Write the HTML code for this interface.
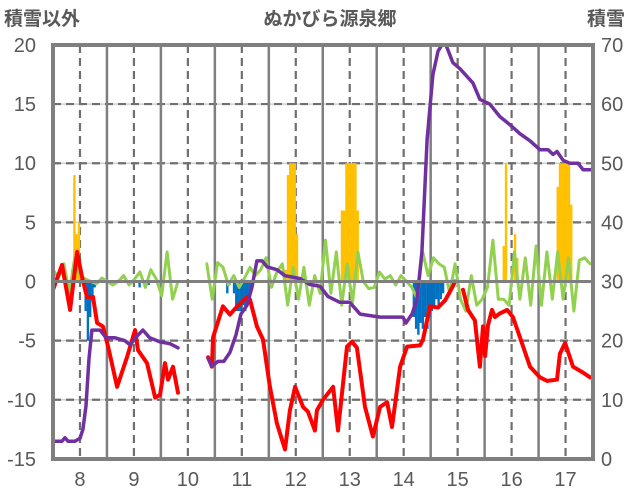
<!DOCTYPE html>
<html><head><meta charset="utf-8">
<style>
body{margin:0;background:#fff;}
svg{display:block;font-family:"Liberation Sans","Noto Sans CJK JP",sans-serif;}
</style></head>
<body>
<svg id="chart" width="636" height="501" viewBox="0 0 636 501">
<text x="4" y="25" font-size="19" font-weight="bold" fill="#595959">積雪以外</text>
<text x="330" y="25" font-size="19" font-weight="bold" fill="#595959" text-anchor="middle">ぬかびら源泉郷</text>
<text x="587" y="25" font-size="19" font-weight="bold" fill="#595959">積雪</text>
<g id="grid"></g>
<g id="bars"></g>
<g id="lines"></g>
<g id="frame"></g>
<g id="labels"></g>
</svg>
<script>
const leftTicks=[20,15,10,5,0,-5,-10,-15];
const rightTicks=[70,60,50,40,30,20,10,0];
const dayLabels=[8,9,10,11,12,13,14,15,16,17];
// snowfall bars (hour index, value, left axis)
const orangeHours=[8,9,10,11,103,104,105,106,107,108,128,129,130,131,132,133,134,135,200,201,205,206,224,225,226,227,228,229,230];
const orangeVals=[1,9,4,5,1,9,10,10,10,4,6,6,10,10,10,10,10,6,3,10,4,2,8,10,10,10,10,10,6.5];
const blueHours=[14,15,16,17,18,38,42,77,78,80,81,82,83,84,85,86,87,88,160,161,162,163,164,165,166,167,168,169,170,171,172,173];
const blueVals=[-2.5,-5,-3,-1.5,-0.5,-0.5,-0.3,-1,-0.3,-1,-2.5,-2.5,-2.5,-2,-2.5,-2,-1,-0.5,-3,-4,-4.5,-3.5,-4,-3,-4,-3,-2.5,-2,-1.5,-2,-1.5,-1];
// temperature (red, left axis) segments
const red1H=[0,4,7.6,10.7,12.9,15.1,17.8,19.6,22.2,24.5,28.5,32.9,36.5,37.8,41.8,45.4,47.6,49.8,51.2,53.4,55.6];
const red1V=[-0.7,1.4,-2.4,2.5,0.4,-1.3,-1.3,-3.5,-3.8,-5.5,-8.9,-6.4,-4.1,-5.8,-6.9,-9.8,-9.6,-6.9,-8.3,-7.2,-9.4];
const red2H=[69,70.7,71.2,75.6,78.7,81,86.3,87.6,90.7,93.4,96.5,99.6,103.2,105.4,107.7,111.2,113.4,116.5,117.4,120.1,124.6,126.8,130.8,133,135.2,138.8,142.3,145.5,148.6,150.8,154.4,157.5,163.3,164.6,167.7,171.3,174.4,177.9,178.8];
const red2V=[-6.4,-7.2,-4.7,-2.1,-2.8,-2.3,-1.3,-1.5,-3.8,-4.9,-8.9,-12,-14.2,-10.9,-8.9,-10.6,-11,-12.6,-10.9,-10,-8.9,-12.6,-5.5,-5.1,-5.6,-10.6,-13.1,-10.6,-10.2,-12.3,-7.2,-5.5,-5.4,-4.9,-2.1,-2.2,-1.6,-0.4,0];
const red3H=[182.4,184.6,187.7,189.9,191.3,192.2,193.5,195.3,196.6,198.8,202,204.6,207.7,212.2,216.6,219.8,224.2,225.5,227.8,231.3,235.8,238.9];
const red3V=[-0.7,-2.4,-3.3,-7.2,-3.8,-6.3,-3.7,-2.4,-3,-2.7,-2.4,-3,-4.7,-7.2,-8.1,-8.4,-8.3,-6.1,-5.2,-7.2,-7.7,-8.1];
// snow depth (purple, right axis)
const pur1H=[0,4,5.3,6.7,9.8,12,13.3,14.7,16,17.3,20.9,23.6,27.6,32,34.3,37.4,40,43,47.6,52,55.6];
const pur1V=[3,3,3.6,3,3,3.5,5,9,17,21.8,21.8,20.5,20.5,20,19.3,20.8,21.8,20.5,19.8,19.5,18.8];
const pur2H=[69,70.7,73.4,76,78.7,81.4,83.6,86.3,88.5,90.7,93,95.2,99.6,103.2,110,114.3,118.8,122.3,127.6,132,136.6,145.5,155.7,157,159.7,161.9,164.1,166.4,169,171.3,173,174.8,177.9,181,186.8,189.9,194.3,198.8,203.3,207.7,212.2,216.6,220.2,222.4,224.2,226.9,230,233.6,235.8,238.9];
const pur2V=[17,15.7,16.5,16.5,18,21,24.5,26,29,33.5,33.5,32.5,32,31,30.5,29.5,29.2,27.5,26.5,26.5,24.5,24,24,23,24.5,27,35,54,65,69,70,70,67,66,63.6,60.8,60,57.9,56.5,55,53.8,52.3,52.3,51.5,52,50.5,50,50,48.9,48.9];
// green series (left axis), evenly sampled
const green1Start=0, green1End=55.6;
const green1V=[1,0.3,1.5,-1,2,0.5,0.2,0,-0.2,0.3,0,-0.3,0,0.5,-0.3,0.2,0.8,-0.5,1,0.2,-1.2,2.5,-1.5,0];
const green2Start=68.4, green2End=238.9;
const green2V=[1.5,-1.5,1.6,1.2,-0.3,0.5,-0.5,0.3,1.2,0.5,1.0,2.0,-0.5,0.8,1.5,-2,1.2,-1.5,1.2,-2,0.5,-1,3.5,-1,2.5,-2,1.5,-1.8,2.5,0,-0.6,-0.5,0.8,0.2,0.5,-0.3,0.5,0,-0.5,-1.5,2.5,0.5,2,1.5,1.2,-1,1.5,-1.5,-2.5,0.5,-2,-1.5,-0.5,3.5,-1.5,-1.5,-2,2.5,-1.5,2,-2,3,-2,2.5,-1.5,2.5,-1.5,2,-2.5,1.8,2,1.5];

const L=53,R=593,T=45,B=459;
const xH=h=>L+h*2.248;
const yL=v=>281.5-(v)*(B-T)/35;
const yR=s=>B-s*(B-T)/70;
const NS='http://www.w3.org/2000/svg';
function mk(tag,attrs,parent){const e=document.createElementNS(NS,tag);for(const k in attrs)e.setAttribute(k,attrs[k]);parent.appendChild(e);return e;}
const grid=document.getElementById('grid'),bars=document.getElementById('bars'),lines=document.getElementById('lines'),frame=document.getElementById('frame'),labels=document.getElementById('labels');

leftTicks.forEach(v=>{
  const y=yL(v);
  if(v!==20&&v!==-15&&v!==0){
    const a=mk('line',{x1:L,x2:R,y1:y,y2:y,stroke:'#d0d0d0','stroke-width':1.5},grid);
    
    const g=mk('line',{x1:L,x2:R,y1:y,y2:y,stroke:'#6f6f6f','stroke-width':2.2,'stroke-dasharray':'8,5'},grid);
    
  }
  const t=mk('text',{x:36,y:y+7,'font-size':20,fill:'#595959','text-anchor':'end'},labels);
  t.textContent=v;
  
});
rightTicks.forEach(s=>{
  const t=mk('text',{x:601,y:yR(s)+7,'font-size':20,fill:'#595959'},labels);
  t.textContent=s;
  
});
dayLabels.forEach((d,i)=>{
  const xs=xH(24*i), xm=xH(24*i+12);
  if(i>0){const l=mk('line',{x1:xs,x2:xs,y1:T,y2:B,stroke:'#7f7f7f','stroke-width':2.5},grid);
    }
  const m=mk('line',{x1:xm,x2:xm,y1:T,y2:B,stroke:'#6f6f6f','stroke-width':2.2,'stroke-dasharray':'8,5'},grid);
  
  const t=mk('text',{x:xm,y:486,'font-size':20,fill:'#595959','text-anchor':'middle'},labels);
  t.textContent=d;
  
});
orangeHours.forEach((h,i)=>{
  const v=orangeVals[i];
  const r=mk('rect',{x:xH(h),y:yL(v),width:2.4,height:yL(0)-yL(v),fill:'#ffc000'},bars);
  
});
blueHours.forEach((h,i)=>{
  const v=blueVals[i];
  const r=mk('rect',{x:xH(h),y:yL(0),width:2.4,height:yL(v)-yL(0),fill:'#0070c0'},bars);
  
});
function poly(H,V,yf,color,w,name){
  const pts=H.map((h,i)=>xH(h).toFixed(1)+','+yf(V[i]).toFixed(1)).join(' ');
  const p=mk('polyline',{points:pts,fill:'none',stroke:color,'stroke-width':w,'stroke-linejoin':'round','stroke-linecap':'round'},lines);
  
}
function evenH(a,b,n){const r=[];for(let i=0;i<n;i++)r.push(a+(b-a)*i/(n-1));return r;}
poly(evenH(green1Start,green1End,green1V.length),green1V,yL,'#92d050',3,'green-series');
poly(evenH(green2Start,green2End,green2V.length),green2V,yL,'#92d050',3,'green-series');
poly(red1H,red1V,yL,'#ff0000',4,'temperature-line');
poly(red2H,red2V,yL,'#ff0000',4,'temperature-line');
poly(red3H,red3V,yL,'#ff0000',4,'temperature-line');
poly(pur1H,pur1V,yR,'#7030a0',3.5,'snow-depth-line');
poly(pur2H,pur2V,yR,'#7030a0',3.5,'snow-depth-line');
const z=mk('line',{x1:L,x2:R,y1:yL(0),y2:yL(0),stroke:'#7f7f7f','stroke-width':3},frame);

const f=mk('rect',{x:L,y:T,width:R-L,height:B-T,fill:'none',stroke:'#7f7f7f','stroke-width':4},frame);

</script>
</body></html>
